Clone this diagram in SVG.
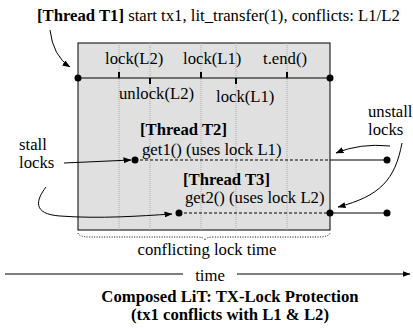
<svg xmlns="http://www.w3.org/2000/svg" width="413" height="329" viewBox="0 0 413 329">
<defs>
<marker id="ah" markerWidth="8" markerHeight="6" refX="7.5" refY="3" orient="auto" markerUnits="userSpaceOnUse"><path d="M0,0 L8,3 L0,6 Z" fill="#000"/></marker>
<style>
text{font-size:16.7px;fill:#000}
.b{font-weight:bold}
.vl{stroke:#a0a0a0;stroke-width:0.8;stroke-dasharray:1,1}
.ln{stroke:#000;stroke-width:1.2;fill:none}
.dl{stroke:#000;stroke-width:1;stroke-dasharray:3,2;fill:none}
.ar{stroke:#000;stroke-width:1;fill:none;marker-end:url(#ah)}
.tk{fill:#000}
</style>
</defs>
<rect width="413" height="329" fill="#fff"/>
<g font-family="Liberation Serif, DejaVu Serif, serif">
<g id="title">
<text x="37" y="21"><tspan class="b">[Thread T1]</tspan> start tx1, lit_transfer(1), conflicts: L1/L2</text>
</g>
<g id="box">
<rect x="78" y="43" width="252" height="187" fill="#e0e0e0" stroke="#000" stroke-width="1"/>
<line class="vl" x1="119" y1="43" x2="119" y2="230"/>
<line class="vl" x1="150" y1="43" x2="150" y2="230"/>
<line class="vl" x1="201" y1="43" x2="201" y2="230"/>
<line class="vl" x1="236" y1="43" x2="236" y2="230"/>
<line class="vl" x1="287" y1="43" x2="287" y2="230"/>
</g>
<g id="t1">
<line class="ln" x1="78" y1="78" x2="330" y2="78"/>
<circle cx="78" cy="78" r="3.5"/>
<circle cx="330" cy="78" r="3.5"/>
<rect class="tk" x="118" y="72" width="2" height="6"/>
<rect class="tk" x="149" y="78" width="2" height="6"/>
<rect class="tk" x="200" y="72" width="2" height="6"/>
<rect class="tk" x="235" y="78" width="2" height="6"/>
<rect class="tk" x="286" y="72" width="2" height="6"/>
<text x="105" y="64">lock(L2)</text>
<text x="183" y="64">lock(L1)</text>
<text x="263" y="64">t.end()</text>
<text x="119" y="99">unlock(L2)</text>
<text x="216" y="102">lock(L1)</text>
</g>
<g id="t2">
<text class="b" x="140" y="135">[Thread T2]</text>
<text x="142" y="155">get1() (uses lock L1)</text>
<line class="dl" x1="135" y1="160" x2="330" y2="160"/>
<line class="ln" x1="330" y1="160" x2="387" y2="160"/>
<circle cx="135" cy="160" r="3.5"/>
<circle cx="387" cy="160" r="3.5"/>
</g>
<g id="t3">
<text class="b" x="183" y="185">[Thread T3]</text>
<text x="185" y="203">get2() (uses lock L2)</text>
<line class="dl" x1="179" y1="213" x2="330" y2="213"/>
<line class="ln" x1="330" y1="213" x2="387" y2="213"/>
<circle cx="179" cy="213" r="3.5"/>
<circle cx="330" cy="213" r="3.5"/>
<circle cx="387" cy="213" r="3.5"/>
</g>
<g id="stall">
<text x="19" y="150">stall</text>
<text x="19" y="168">locks</text>
</g>
<g id="unstall">
<text x="368" y="117">unstall</text>
<text x="368" y="135">locks</text>
</g>
<g id="connectors">
<path class="ar" d="M50,30 Q53,56 70,67"/>
<path class="ar" d="M64,163 L131,160"/>
<path class="ar" d="M46,187 C36,200 32,214 60,216 C100,219 140,216 172,214"/>
<path class="ar" d="M390,146 Q360,143 336,153"/>
<path class="ar" d="M402,143 C395,180 380,196 338,207"/>
</g>
<g id="brace">
<path d="M78,233 Q79,237 90,237 L196,237 Q204,237 205,240 Q206,237 214,237 L318,237 Q329,237 330,233" fill="none" stroke="#000" stroke-width="1" stroke-dasharray="1,1.5"/>
<text x="207" y="255" text-anchor="middle">conflicting lock time</text>
</g>
<g id="timeaxis">
<line class="ln" x1="5" y1="274" x2="183" y2="274"/>
<line class="ar" x1="237" y1="274" x2="410" y2="274"/>
<text x="210" y="281" text-anchor="middle">time</text>
</g>
<g id="caption">
<text class="b" x="230" y="302" text-anchor="middle" font-size="15">Composed LiT: TX-Lock Protection</text>
<text class="b" x="230" y="320" text-anchor="middle" font-size="15">(tx1 conflicts with L1 &amp; L2)</text>
</g>
</g>
</svg>
